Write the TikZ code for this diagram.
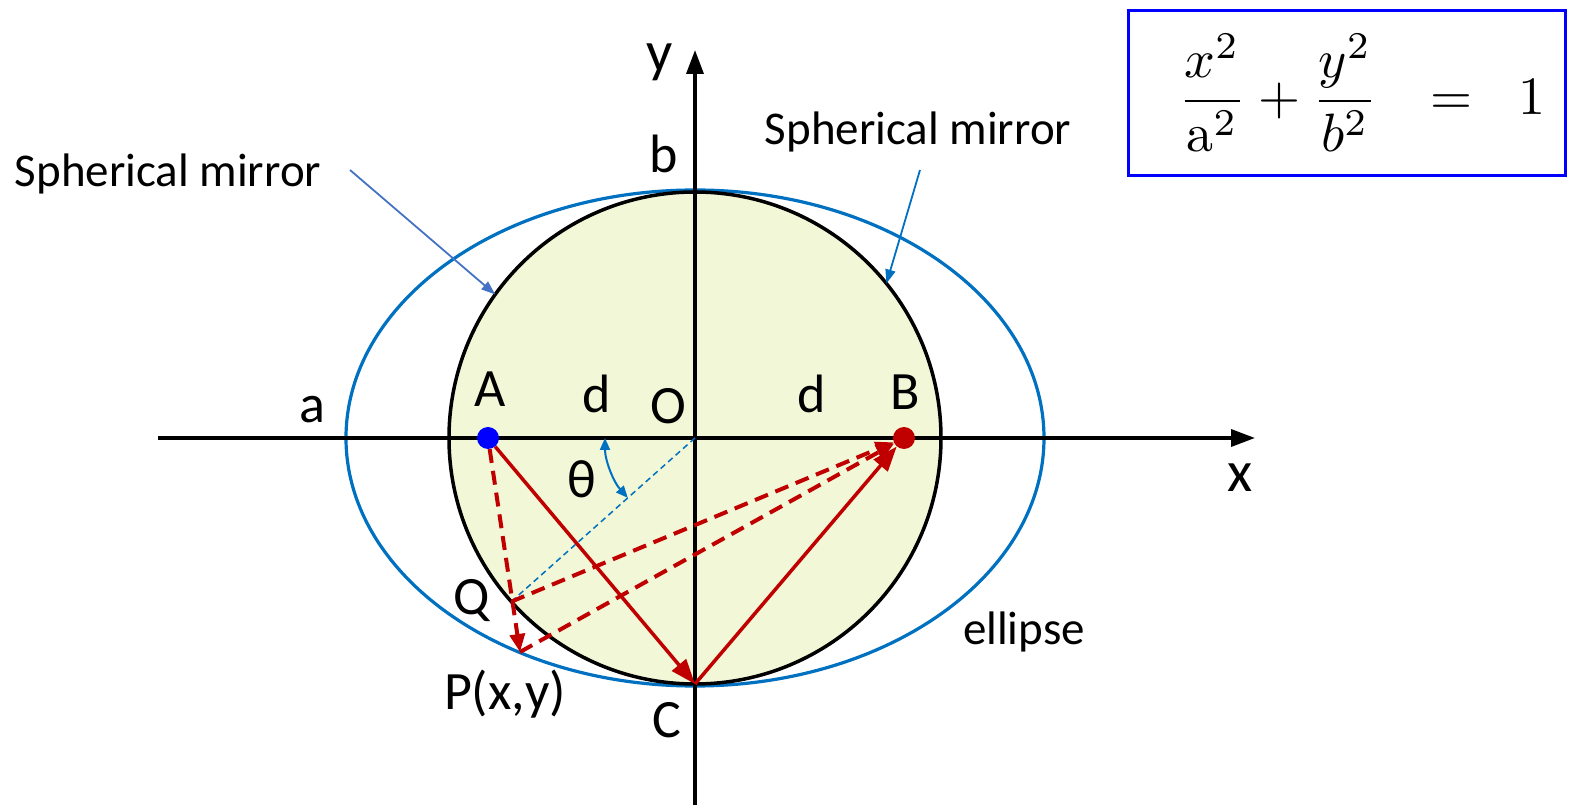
\documentclass[tikz,border=0pt]{standalone}
\usepackage{xcolor}
\usepackage{tikz}
\usepackage{amsmath}
\usepackage{graphicx}
\usepackage{fontspec}
\newfontfamily\lblfont{Carlito}
\usetikzlibrary{arrows.meta,positioning}
\definecolor{mirrorfill}{RGB}{241,247,215}
\definecolor{ellblue}{RGB}{0,112,192}
\definecolor{noteblue}{RGB}{68,114,196}
\definecolor{rayred}{RGB}{192,0,0}

\begin{document}
\begin{tikzpicture}[x=1pt,y=1pt,
  lbl/.style={font={\lblfont\fontsize{54}{60}\selectfont},anchor=base,inner sep=0pt},
  axlbl/.style={font={\lblfont\fontsize{58}{64}\selectfont},anchor=base,inner sep=0pt},
  note/.style={font={\lblfont\fontsize{47}{52}\selectfont},anchor=base,inner sep=0pt},
  axisline/.style={line width=3.5pt,-{Triangle[length=24pt,width=17pt]}},
  ray/.style={rayred,line width=3.5pt,-{Triangle[length=25pt,width=18pt]}},
  raydash/.style={rayred,line width=4pt,dash pattern=on 14pt off 8pt,-{Triangle[length=18pt,width=15pt]}},
  noteline/.style={line width=1.8pt,-{Triangle[length=14pt,width=10pt]}},
  focus/.style={circle,inner sep=0pt,minimum size=22pt}]
  \useasboundingbox (-695,-367) rectangle (874,438);

  \coordinate (O) at (0,0);
  \fill[mirrorfill] (O) circle[radius=246];
  \draw[ellblue,line width=3.2pt] (O) ellipse[x radius=349,y radius=248];
  \draw[line width=3.5pt] (O) circle[radius=246];

  \coordinate (xl) at (-537,0);
  \coordinate (xr) at (560,0);
  \coordinate (yb) at (0,-367);
  \coordinate (yt) at (0,388);
  \draw[axisline] (xl) -- (xr);
  \draw[axisline] (yb) -- (yt);

  \coordinate (C) at (0,-246);
  \coordinate (Q) at (221.7:246);
  \coordinate (P) at (-175,-214);
  \node[focus,fill=blue] (A) at (-207,0) {};
  \node[focus,fill=rayred] (B) at (209,0) {};

  \draw[ellblue,line width=1.5pt,dash pattern=on 6pt off 4pt] (O) -- (Q);
  \draw[ellblue,line width=2pt,{Triangle[length=12pt,width=10pt]}-{Triangle[length=12pt,width=10pt]}]
    (180:90) arc[start angle=180,end angle=221.7,radius=90];

  \draw[raydash] (A) -- (P);
  \draw[raydash] (Q) -- (B);
  \draw[raydash] (P) -- (B);
  \draw[ray] (A) -- (C);
  \draw[ray] (C) -- (B);

  \node[lbl] (lA) at (-205,31) {A};
  \node[lbl] (ld1) at (-98,25) {d};
  \node[lbl] (lO) at (-27,14) {O};
  \node[lbl] (ld2) at (117,25) {d};
  \node[lbl] (lB) at (210,28) {B};
  \node[lbl] (la) at (-383,15) {a};
  \node[lbl] (lb) at (-31,265) {b};
  \node[lbl] (lth) at (-113,-60) {θ};
  \node[lbl] (lQ) at (-223,-177) {Q};
  \node[lbl] (lP) at (-190,-272) {P(x,y)};
  \node[lbl] (lC) at (-28,-299) {C};
  \node[axlbl] (lx) at (545,-54) {x};
  \node[axlbl] (ly) at (-35,366) {y};

  \node[note] (sml) at (-527,251) {Spherical mirror};
  \node[note] (smr) at (223,293) {Spherical mirror};
  \node[note] (ell) at (329,-207) {ellipse};
  \coordinate (smlfrom) at (-345,268);
  \coordinate (smlto) at (144.3:246);
  \coordinate (smrfrom) at (225,268);
  \coordinate (smrto) at (38.9:246);
  \draw[noteline,noteblue] (smlfrom) -- (smlto);
  \draw[noteline,ellblue] (smrfrom) -- (smrto);

  \node[draw=blue,line width=3pt,minimum width=437pt,minimum height=165pt,inner sep=0pt] (eq) at (652,345)
    {\hspace*{30pt}\scalebox{5.4}{$\displaystyle\frac{x^2}{\mathrm{a}^2}+\frac{y^2}{b^2}\hspace{0.7em}=\hspace{0.58em}1$}};
\end{tikzpicture}
\end{document}
